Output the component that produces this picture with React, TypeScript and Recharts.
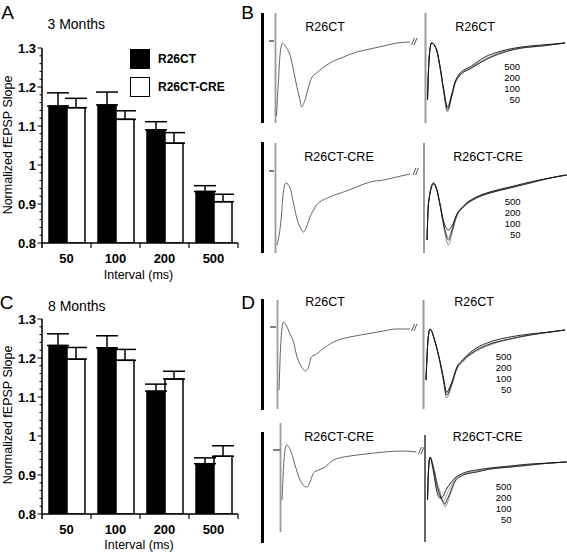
import React from 'react'
import {
  BarChart,
  Bar,
  XAxis,
  YAxis,
  ErrorBar,
  Legend,
  LineChart,
  Line,
  ReferenceLine,
} from 'recharts'

const FONT = '"Liberation Sans", Arial, Helvetica, sans-serif'

// paired-pulse intervals (ms)
const intervals = ['50', '100', '200', '500']

// normalized fEPSP slope, mean + upper SEM
const ctrl3m = [1.151, 1.154, 1.09, 0.932]
const ctrl3mSem = [0.034, 0.033, 0.021, 0.015]
const cre3m = [1.147, 1.117, 1.056, 0.906]
const cre3mSem = [0.024, 0.022, 0.027, 0.019]
const ctrl8m = [1.232, 1.226, 1.115, 0.929]
const ctrl8mSem = [0.03, 0.031, 0.018, 0.015]
const cre8m = [1.197, 1.194, 1.146, 0.948]
const cre8mSem = [0.03, 0.028, 0.02, 0.027]

const yTicks = [
  0.8, 0.82, 0.84, 0.86, 0.88, 0.9, 0.92, 0.94, 0.96, 0.98, 1, 1.02, 1.04, 1.06, 1.08,
  1.1, 1.12, 1.14, 1.16, 1.18, 1.2, 1.22, 1.24, 1.26, 1.28, 1.3,
]
const yMajor = [0.8, 0.9, 1, 1.1, 1.2, 1.3]

// field potentials: time (ms), amplitude (mV)
// B top: R26CT, 3 months
const b1SingleT = [5.3, 5.7, 6.0, 6.5, 7.3, 8.0, 8.7, 9.3, 10.0, 10.3, 11.0, 11.7, 12.3, 13.3, 16.0, 18.7, 21.3, 24.0, 26.7, 29.3, 32.0]
const b1SingleV = [-0.75, -0.39, -0.14, -0.02, -0.07, -0.14, -0.29, -0.44, -0.59, -0.66, -0.59, -0.46, -0.37, -0.32, -0.22, -0.16, -0.11, -0.08, -0.05, -0.02, -0.01]
const b1PairT = [35.5, 35.8, 36.3, 37.3, 38.0, 38.7, 39.5, 40.3, 41.0, 41.7, 44.3, 47.0, 50.3, 54.3, 58.3, 63.0]
const b1Pair50 = [-0.59, -0.19, -0.02, -0.09, -0.27, -0.5, -0.71, -0.57, -0.43, -0.36, -0.27, -0.19, -0.12, -0.07, -0.05, -0.02]
const b1Pair100 = [-0.59, -0.19, -0.02, -0.09, -0.26, -0.49, -0.69, -0.56, -0.42, -0.36, -0.27, -0.19, -0.12, -0.07, -0.05, -0.02]
const b1Pair200 = [-0.59, -0.19, -0.02, -0.09, -0.26, -0.48, -0.67, -0.55, -0.42, -0.35, -0.26, -0.18, -0.11, -0.07, -0.05, -0.02]
const b1Pair500 = [-0.59, -0.19, -0.02, -0.08, -0.25, -0.47, -0.66, -0.54, -0.41, -0.34, -0.25, -0.16, -0.1, -0.06, -0.04, -0.02]
const b1Stim = [[5.1, 0.28, -0.82], [35.1, 0.28, -0.82]]
const b1Scale = [0.28, -0.82]

// B bottom: R26CT-CRE, 3 months
const b2SingleT = [5.4, 6.3, 6.6, 7.2, 8.0, 8.7, 9.3, 10.0, 10.7, 11.3, 12.0, 12.7, 13.3, 16.0, 18.7, 21.3, 24.0, 26.7, 29.3, 32.0]
const b2SingleV = [-0.74, -0.44, -0.24, -0.12, -0.17, -0.32, -0.46, -0.56, -0.61, -0.56, -0.46, -0.39, -0.34, -0.26, -0.21, -0.16, -0.11, -0.09, -0.06, -0.03]
const b2PairT = [35.4, 35.7, 36.7, 37.4, 38.0, 38.7, 39.7, 40.4, 41.3, 42.7, 45.3, 48.0, 52.0, 56.0, 60.0, 63.3]
const b2Pair50 = [-0.69, -0.32, -0.12, -0.19, -0.34, -0.54, -0.74, -0.62, -0.46, -0.36, -0.27, -0.22, -0.17, -0.12, -0.07, -0.04]
const b2Pair100 = [-0.69, -0.32, -0.12, -0.19, -0.34, -0.53, -0.69, -0.6, -0.45, -0.36, -0.27, -0.22, -0.17, -0.12, -0.07, -0.04]
const b2Pair200 = [-0.69, -0.32, -0.12, -0.19, -0.33, -0.52, -0.66, -0.58, -0.45, -0.35, -0.26, -0.21, -0.16, -0.12, -0.07, -0.04]
const b2Pair500 = [-0.69, -0.32, -0.13, -0.2, -0.33, -0.5, -0.59, -0.55, -0.44, -0.35, -0.26, -0.21, -0.16, -0.11, -0.07, -0.04]
const b2Stim = [[5.1, 0.28, -0.82], [34.8, 0.28, -0.82]]
const b2Scale = [0.29, -0.82]

// D top: R26CT, 8 months
const d1SingleT = [5.8, 6.2, 6.7, 7.3, 8.0, 8.7, 9.3, 10.3, 11.1, 11.7, 12.3, 13.3, 14.3, 16.7, 20.0, 23.3, 26.7, 29.3, 32.0]
const d1SingleV = [-0.63, -0.13, 0.05, 0.01, -0.07, -0.15, -0.28, -0.4, -0.44, -0.4, -0.3, -0.27, -0.23, -0.15, -0.1, -0.07, -0.04, -0.02, -0.02]
const d1PairT = [35.2, 35.6, 36.0, 37.0, 38.0, 38.7, 39.3, 40.3, 41.3, 42.7, 45.3, 48.0, 52.0, 56.0, 60.0, 63.0]
const d1Pair50 = [-0.53, -0.13, -0.02, -0.15, -0.36, -0.54, -0.71, -0.59, -0.43, -0.34, -0.24, -0.18, -0.12, -0.08, -0.05, -0.03]
const d1Pair100 = [-0.53, -0.13, -0.02, -0.15, -0.35, -0.53, -0.68, -0.58, -0.42, -0.33, -0.23, -0.17, -0.12, -0.08, -0.05, -0.03]
const d1Pair200 = [-0.53, -0.13, -0.02, -0.15, -0.35, -0.52, -0.66, -0.57, -0.42, -0.33, -0.23, -0.17, -0.12, -0.08, -0.05, -0.03]
const d1Pair500 = [-0.53, -0.13, -0.02, -0.14, -0.34, -0.51, -0.65, -0.56, -0.41, -0.32, -0.21, -0.15, -0.1, -0.07, -0.05, -0.03]
const d1Stim = [[5.5, 0.27, -0.82], [34.7, 0.27, -0.82]]
const d1Scale = [0.28, -0.83]

// D bottom: R26CT-CRE, 8 months
const d2SingleT = [6.4, 6.8, 7.3, 8.3, 9.0, 10.0, 11.3, 12.0, 12.7, 13.7, 14.7, 16.7, 20.0, 23.3, 26.7, 30.7, 33.3]
const d2SingleV = [-0.5, -0.1, 0.05, -0.03, -0.15, -0.3, -0.37, -0.32, -0.23, -0.2, -0.18, -0.1, -0.06, -0.04, -0.02, -0.01, -0.02]
const d2PairT = [35.5, 35.7, 36.0, 36.7, 37.3, 38.0, 38.7, 39.0, 39.3, 40.0, 41.0, 42.7, 45.3, 48.0, 52.0, 56.0, 60.0, 63.3]
const d2Pair50 = [-0.5, -0.2, -0.07, -0.17, -0.3, -0.42, -0.53, -0.57, -0.55, -0.45, -0.32, -0.25, -0.22, -0.19, -0.17, -0.15, -0.13, -0.12]
const d2Pair100 = [-0.5, -0.2, -0.07, -0.18, -0.33, -0.45, -0.53, -0.54, -0.51, -0.43, -0.31, -0.25, -0.22, -0.19, -0.17, -0.15, -0.13, -0.12]
const d2Pair200 = [-0.5, -0.2, -0.07, -0.19, -0.36, -0.47, -0.51, -0.49, -0.45, -0.38, -0.29, -0.24, -0.21, -0.19, -0.17, -0.15, -0.13, -0.12]
const d2Pair500 = [-0.5, -0.2, -0.08, -0.22, -0.4, -0.48, -0.46, -0.42, -0.39, -0.34, -0.28, -0.23, -0.2, -0.18, -0.16, -0.14, -0.13, -0.12]
const d2Stim = [[6.1, 0.27, -0.82], [35.0, 0.15, -0.92]]
const d2Scale = [0.18, -0.93]

const barFill: Record<string, string> = { ctrl: '#000', cre: '#fff' }
const pairColors = ['#7d7d7d', '#262626', '#9c9c9c', '#111']

function pts(ts: number[], vs: number[]) {
  return ts.map((t, i) => ({ t, v: vs[i] }))
}

function makeRows(ctrl: number[], ctrlSem: number[], cre: number[], creSem: number[]) {
  return intervals.map((interval, i) => ({
    interval,
    ctrl: ctrl[i],
    ctrlErr: [0, ctrlSem[i]],
    cre: cre[i],
    creErr: [0, creSem[i]],
  }))
}

function Label({ x, y, size, weight = 'normal', align = 'center', children }: any) {
  const tx = align === 'center' ? '-50%' : align === 'right' ? '-100%' : '0'
  return (
    <div
      style={{
        position: 'absolute',
        left: x,
        top: y,
        transform: `translate(${tx},-50%)`,
        fontSize: size,
        fontWeight: weight,
        fontFamily: FONT,
        lineHeight: 1,
        whiteSpace: 'nowrap',
        color: '#000',
      }}
    >
      {children}
    </div>
  )
}

const BAND = 49

function XTick(props: any) {
  const { x, y, payload, index } = props
  const axisY = y - 15
  return (
    <g>
      {index === 0 && (
        <line x1={x - BAND / 2} x2={x - BAND / 2} y1={axisY} y2={axisY + 5} stroke="#000" strokeWidth={1.5} />
      )}
      <line x1={x + BAND / 2} x2={x + BAND / 2} y1={axisY} y2={axisY + 5} stroke="#000" strokeWidth={1.2} />
      <text x={x} y={y} textAnchor="middle" dominantBaseline="central" fontSize={13} fontWeight="bold" fontFamily={FONT} fill="#000">
        {payload.value}
      </text>
    </g>
  )
}

function YTick(props: any) {
  const { x, y, payload } = props
  const axisX = x + 6
  const major = yMajor.includes(payload.value)
  return (
    <g>
      <line x1={axisX} x2={axisX - (major ? 4.5 : 2.5)} y1={y} y2={y} stroke="#000" strokeWidth={1} />
      {major && (
        <text x={x} y={y} textAnchor="end" dominantBaseline="central" fontSize={13} fontWeight="bold" fontFamily={FONT} fill="#000">
          {String(payload.value)}
        </text>
      )}
    </g>
  )
}

const renderLegend = ({ payload }: any) => (
  <div style={{ fontFamily: FONT }}>
    {(payload || []).map((entry: any) => (
      <div key={entry.value} style={{ display: 'flex', alignItems: 'center', height: 28 }}>
        <span
          style={{
            display: 'inline-block',
            width: 20,
            height: 20,
            boxSizing: 'border-box',
            border: '1.5px solid #000',
            background: barFill[entry.dataKey] ?? entry.color,
          }}
        />
        <span style={{ marginLeft: 8, fontSize: 12, fontWeight: 'bold' }}>{entry.value}</span>
      </div>
    ))}
  </div>
)

function PprBars({ top, rows, legend }: any) {
  return (
    <div style={{ position: 'absolute', left: 0, top }}>
      <BarChart
        width={250}
        height={290}
        data={rows}
        margin={{ top: 48, right: 12, bottom: 17, left: 0 }}
        barCategoryGap={7}
        barGap={0}
      >
        <XAxis
          dataKey="interval"
          height={30}
          tickSize={5}
          tickMargin={10}
          tickLine={false}
          interval={0}
          axisLine={{ stroke: '#000', strokeWidth: 1.5 }}
          tick={(p: any) => <XTick {...p} />}
        />
        <YAxis
          width={42}
          domain={[0.8, 1.3]}
          ticks={yTicks}
          interval={0}
          tickSize={4}
          tickMargin={2}
          tickLine={false}
          allowDataOverflow
          axisLine={{ stroke: '#000', strokeWidth: 1.5 }}
          tick={(p: any) => <YTick {...p} />}
        />
        {legend && (
          <Legend
            layout="vertical"
            align="center"
            verticalAlign="middle"
            wrapperStyle={{ left: 130, top: 45, width: 110 }}
            content={renderLegend}
          />
        )}
        <Bar dataKey="ctrl" name="R26CT" fill="#000" stroke="#000" strokeWidth={1.5} isAnimationActive={false}>
          <ErrorBar dataKey="ctrlErr" width={11} stroke="#000" strokeWidth={1.5} />
        </Bar>
        <Bar dataKey="cre" name="R26CT-CRE" fill="#fff" stroke="#000" strokeWidth={1.5} isAnimationActive={false}>
          <ErrorBar dataKey="creErr" width={11} stroke="#000" strokeWidth={1.5} />
        </Bar>
      </BarChart>
    </div>
  )
}

function TracePanel({ top, single, pairT, pairs, stim, scale, brk, tick, rightStimColor = '#9a9a9a' }: any) {
  return (
    <div style={{ position: 'absolute', left: 250, top }}>
      <LineChart width={317} height={130} margin={{ top: 0, right: 0, bottom: 0, left: 0 }}>
        <XAxis type="number" dataKey="t" domain={[0, 63.4]} hide allowDataOverflow />
        <YAxis type="number" domain={[-1, 0.3]} hide allowDataOverflow />
        <ReferenceLine segment={[{ x: 2.5, y: scale[0] }, { x: 2.5, y: scale[1] }]} stroke="#000" strokeWidth={3} />
        <ReferenceLine segment={[{ x: tick[0], y: 0 }, { x: tick[1], y: 0 }]} stroke="#000" strokeWidth={1} />
        {[0, 0.5].map((d) => (
          <ReferenceLine
            key={d}
            segment={[{ x: brk + d, y: -0.04 }, { x: brk + d + 0.6, y: 0.03 }]}
            stroke="#555"
            strokeWidth={1}
          />
        ))}
        {stim.map(([t, hi, lo]: number[], i: number) => (
          <Line
            key={'stim' + i}
            data={[{ t, v: hi }, { t, v: lo }]}
            dataKey="v"
            type="linear"
            stroke={i === 0 ? '#9a9a9a' : rightStimColor}
            strokeWidth={i === 0 ? 1.8 : 2}
            dot={false}
            activeDot={false}
            isAnimationActive={false}
          />
        ))}
        <Line
          data={single}
          dataKey="v"
          type="monotone"
          stroke="#666"
          strokeWidth={1}
          dot={false}
          activeDot={false}
          isAnimationActive={false}
        />
        {[0, 2, 1, 3].map((k) => (
          <Line
            key={'pair' + k}
            data={pts(pairT, pairs[k])}
            dataKey="v"
            type="monotone"
            stroke={pairColors[k]}
            strokeWidth={0.9}
            dot={false}
            activeDot={false}
            isAnimationActive={false}
          />
        ))}
      </LineChart>
    </div>
  )
}

function IntervalKey({ right, y }: any) {
  return (
    <div
      style={{
        position: 'absolute',
        left: right,
        top: y - 5.5,
        transform: 'translateX(-100%)',
        fontFamily: FONT,
        fontSize: 9.5,
        lineHeight: '11px',
        textAlign: 'right',
      }}
    >
      {[...intervals].reverse().map((s) => (
        <div key={s}>{s}</div>
      ))}
    </div>
  )
}

export default function App() {
  const rows3 = makeRows(ctrl3m, ctrl3mSem, cre3m, cre3mSem)
  const rows8 = makeRows(ctrl8m, ctrl8mSem, cre8m, cre8mSem)
  return (
    <div
      style={{
        position: 'absolute',
        left: 0,
        top: 0,
        width: 567,
        height: 552,
        overflow: 'hidden',
        background: '#fff',
      }}
    >
      <PprBars top={0} rows={rows3} legend />
      <PprBars top={271} rows={rows8} legend={false} />

      <TracePanel
        top={11}
        single={pts(b1SingleT, b1SingleV)}
        pairT={b1PairT}
        pairs={[b1Pair50, b1Pair100, b1Pair200, b1Pair500]}
        stim={b1Stim}
        scale={b1Scale}
        brk={32.3}
        tick={[3.8, 4.8]}
      />
      <TracePanel
        top={141}
        single={pts(b2SingleT, b2SingleV)}
        pairT={b2PairT}
        pairs={[b2Pair50, b2Pair100, b2Pair200, b2Pair500]}
        stim={b2Stim}
        scale={b2Scale}
        brk={32.6}
        tick={[3.8, 4.8]}
      />
      <TracePanel
        top={297}
        single={pts(d1SingleT, d1SingleV)}
        pairT={d1PairT}
        pairs={[d1Pair50, d1Pair100, d1Pair200, d1Pair500]}
        stim={d1Stim}
        scale={d1Scale}
        brk={32.3}
        tick={[4.0, 5.2]}
      />
      <TracePanel
        top={420}
        single={pts(d2SingleT, d2SingleV)}
        pairT={d2PairT}
        pairs={[d2Pair50, d2Pair100, d2Pair200, d2Pair500]}
        stim={d2Stim}
        scale={d2Scale}
        brk={33.7}
        tick={[4.6, 6.0]}
        rightStimColor="#666"
      />

      {/* panel letters and titles */}
      <Label x={7.5} y={12} size={19}>A</Label>
      <Label x={247.5} y={12} size={19}>B</Label>
      <Label x={6.5} y={301.5} size={19}>C</Label>
      <Label x={248} y={301.5} size={19}>D</Label>
      <Label x={47.5} y={24} size={14} align="left">3 Months</Label>
      <Label x={48} y={306} size={14} align="left">8 Months</Label>

      {/* axis titles */}
      <Label x={138.5} y={275} size={12.5}>Interval (ms)</Label>
      <Label x={139} y={545} size={12.5}>Interval (ms)</Label>
      <div
        style={{
          position: 'absolute',
          left: 8,
          top: 145,
          transform: 'translate(-50%,-50%) rotate(-90deg)',
          fontFamily: FONT,
          fontSize: 12.5,
          lineHeight: 1,
          whiteSpace: 'nowrap',
        }}
      >
        Normalized fEPSP Slope
      </div>
      <div
        style={{
          position: 'absolute',
          left: 8,
          top: 415,
          transform: 'translate(-50%,-50%) rotate(-90deg)',
          fontFamily: FONT,
          fontSize: 12.5,
          lineHeight: 1,
          whiteSpace: 'nowrap',
        }}
      >
        Normalized fEPSP Slope
      </div>

      {/* trace labels */}
      <Label x={325} y={27} size={12.5}>R26CT</Label>
      <Label x={475} y={27} size={12.5}>R26CT</Label>
      <Label x={339} y={157} size={12.5}>R26CT-CRE</Label>
      <Label x={488} y={157} size={12.5}>R26CT-CRE</Label>
      <Label x={325} y={302} size={12.5}>R26CT</Label>
      <Label x={474} y={302} size={12.5}>R26CT</Label>
      <Label x={339} y={437} size={12.5}>R26CT-CRE</Label>
      <Label x={487.5} y={437} size={12.5}>R26CT-CRE</Label>

      <IntervalKey right={520} y={66.7} />
      <IntervalKey right={520.5} y={201} />
      <IntervalKey right={511.5} y={356} />
      <IntervalKey right={511.5} y={486} />
    </div>
  )
}
